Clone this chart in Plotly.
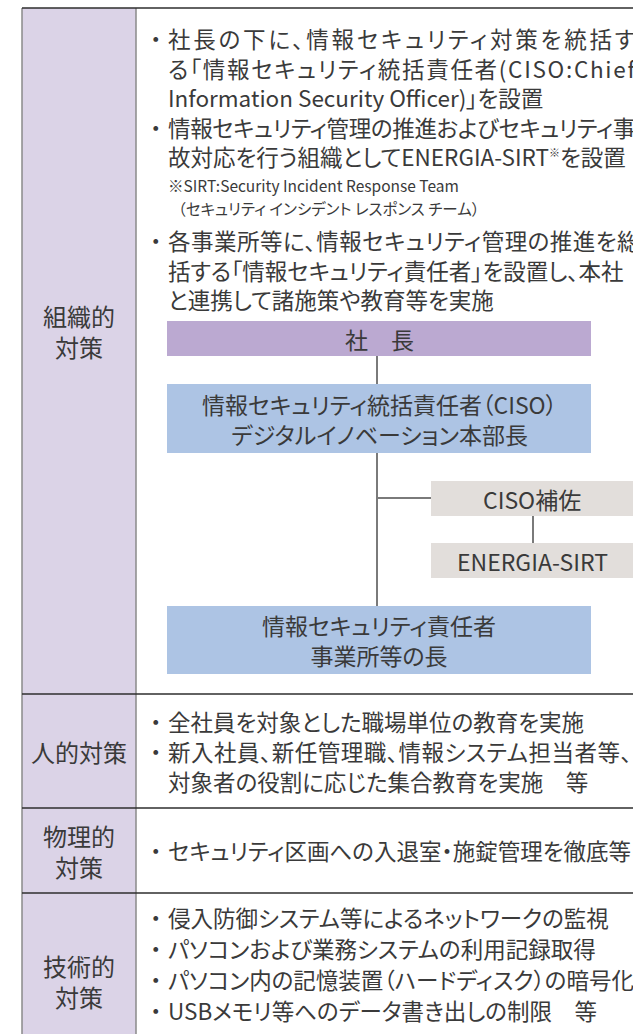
import plotly.graph_objects as go

# ---------------- data (text content) ----------------
categories = ["組織的|対策", "人的対策", "物理的|対策", "技術的|対策"]

org_lines = [
    "・社長の下に、情報セキュリティ対策を統括す",
    "る「情報セキュリティ統括責任者(CISO:Chief",
    "Information Security Officer)」を設置",
    "・情報セキュリティ管理の推進およびセキュリティ事",
    "故対応を行う組織としてENERGIA-SIRT<sup><span style=\"font-size:11px\">※</span></sup>を設置",
]
org_notes = [
    "※SIRT:Security Incident Response Team",
    "（セキュリティ インシデント レスポンス チーム）",
]
org_lines2 = [
    "・各事業所等に、情報セキュリティ管理の推進を総",
    "括する「情報セキュリティ責任者」を設置し、本社",
    "と連携して諸施策や教育等を実施",
]
human_lines = [
    "・全社員を対象とした職場単位の教育を実施",
    "・新入社員、新任管理職、情報システム担当者等、",
    "対象者の役割に応じた集合教育を実施　等",
]
physical_lines = [
    "・セキュリティ区画への入退室・施錠管理を徹底等",
]
tech_lines = [
    "・侵入防御システム等によるネットワークの監視",
    "・パソコンおよび業務システムの利用記録取得",
    "・パソコン内の記憶装置（ハードディスク）の暗号化",
    "・USBメモリ等へのデータ書き出しの制限　等",
]
org_nodes = [
    "社　長",
    "情報セキュリティ統括責任者（CISO）|デジタルイノベーション本部長",
    "CISO補佐",
    "ENERGIA-SIRT",
    "情報セキュリティ責任者|事業所等の長",
]

# ---------------- layout / style ----------------
W, H = 633, 1034
FONT = "Noto Sans CJK JP"
TXT = "#3a3a3a"
LAV = "#dbd3e7"
PRES = "#bba9d1"
BLUE = "#adc4e4"
GREY = "#e2dedb"
LINE = "#7a7a7a"
FS = 22.5

X_L, X_DIV, X_R = 22, 136, 640
row_edges = [8, 694, 808, 893, 1045]
label_y = [331, 751, 850.5, 981]

fig = go.Figure()
shapes = []
ann = []


def pal(s, ls=0):
    st = "font-feature-settings:'palt' 1"
    if ls:
        st += ";letter-spacing:%.2fpx" % ls
    return "<span style=\"" + st + "\">" + s + "</span>"


def text(x, y, s, size=FS, anchor="left", color=TXT, ls=0):
    ann.append(dict(x=x, y=y, xref="x", yref="y", text=s if "<br>" in s else pal(s, ls),
                    showarrow=False, xanchor=anchor, yanchor="middle", align="center",
                    font=dict(family=FONT, size=size, color=color)))


def multiline(parts):
    return "<br>".join(pal(p) for p in parts)


def rect(x0, y0, x1, y1, fill, line_color=None, width=0):
    shapes.append(dict(type="rect", x0=x0, y0=y0, x1=x1, y1=y1, xref="x", yref="y",
                       fillcolor=fill, line=dict(width=width, color=line_color or fill),
                       layer="below"))


def line(x0, y0, x1, y1, color=LINE, width=2):
    shapes.append(dict(type="line", x0=x0, y0=y0, x1=x1, y1=y1, xref="x", yref="y",
                       line=dict(color=color, width=width), layer="above"))


# left label column
rect(X_L, row_edges[0], X_DIV, row_edges[-1], LAV)
line(X_L, row_edges[0], X_L, row_edges[-1], color="#8a8a8a", width=1.5)
line(X_DIV, row_edges[0], X_DIV, row_edges[-1], color="#8a8a8a", width=1.5)
for yy in row_edges[:-1]:
    line(X_L, yy, X_R, yy, color="#2e2e2e", width=1.3)

for cat, yy in zip(categories, label_y):
    parts = cat.split("|")
    s = multiline(parts) if len(parts) > 1 else parts[0]
    text(79, yy, s, size=24, anchor="center")


def bullet_lines(lines, y0, step=29.5, spacing=None):
    spacing = spacing or {}
    for i, s in enumerate(lines):
        yy = y0 + i * step
        ls = spacing.get(i, 0)
        if s.startswith("・"):
            text(155, yy, "・", anchor="center")
            text(166, yy, s[1:], ls=ls)
        else:
            text(166, yy, s, ls=ls)


bullet_lines(org_lines, 38, spacing={0: 2.8, 1: 1.7, 3: -0.35})
text(166, 185, org_notes[0], size=15.5)
text(176, 208, org_notes[1], size=15.5)
bullet_lines(org_lines2, 240, spacing={0: 0.5})
bullet_lines(human_lines, 721, step=30, spacing={1: 0.5})
bullet_lines(physical_lines, 850)
bullet_lines(tech_lines, 917, step=31)

# org chart
line(377, 356, 377, 384)
line(377, 453, 377, 606)
line(377, 498, 431, 498)
line(533, 516, 533, 543)

boxes = [
    (167, 321, 591, 356, PRES),
    (167, 384, 591, 453, BLUE),
    (431, 481, 640, 516, GREY),
    (431, 543, 640, 578, GREY),
    (167, 606, 591, 674, BLUE),
]
for (x0, y0, x1, y1, c), label in zip(boxes, org_nodes):
    rect(x0, y0, x1, y1, c)
    parts = label.split("|")
    cx = (x0 + x1) / 2 if x1 < 600 else 532
    cy = (y0 + y1) / 2
    s = multiline(parts) if len(parts) > 1 else parts[0]
    text(cx, cy, s, size=23, anchor="center")

fig.update_layout(
    width=W, height=H, margin=dict(l=0, r=0, t=0, b=0),
    paper_bgcolor="white", plot_bgcolor="white",
    xaxis=dict(range=[0, W], visible=False, fixedrange=True),
    yaxis=dict(range=[H, 0], visible=False, fixedrange=True),
    shapes=shapes, annotations=ann, showlegend=False,
)
fig.write_html("out.html", config={"displayModeBar": False},
               post_script="document.body.style.margin='0';document.body.style.overflow='hidden';")
